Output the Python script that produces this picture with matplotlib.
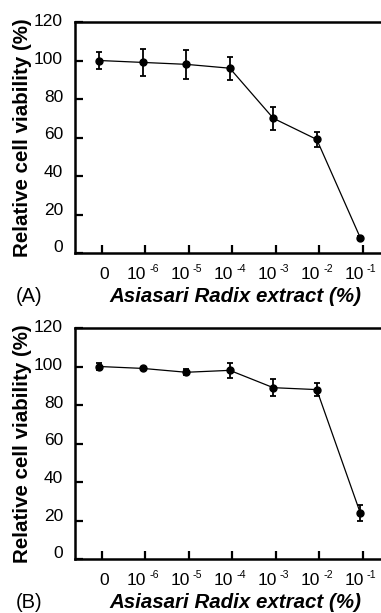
import numpy as np
import matplotlib.pyplot as plt
from matplotlib.transforms import blended_transform_factory

plt.rcParams['font.family'] = ['Liberation Sans', 'DejaVu Sans']

# concentrations (categorical): base and exponent of each label
doses = ['0', '10', '10', '10', '10', '10', '10']
exps = ['', '-6', '-5', '-4', '-3', '-2', '-1']
yvals = [0, 20, 40, 60, 80, 100, 120]

# panel A
via_a = [100, 99, 98, 96, 70, 59, 8]
err_a = [4.5, 7, 7.5, 6, 6, 4, 1]

# panel B
via_b = [100, 99, 97, 98, 89, 88, 24]
err_b = [2, 0.5, 1.5, 4, 4.5, 3.5, 4]

W, H = 381, 613
fig = plt.figure(figsize=(W / 100, H / 100), dpi=100)


def px(x, y):
    return x / W, 1 - y / H


def panel(top_px, bot_px, vals, errs, tag):
    l, t = px(75, top_px)
    _, b = px(75, bot_px)
    ax = fig.add_axes([l, b, 330 / W, t - b])
    x = np.arange(len(doses))
    ax.errorbar(x - 0.06, vals, yerr=errs, color='black', marker='o', ms=5,
                lw=0.9, elinewidth=1.3, capsize=2.5, capthick=1.3)
    ax.set_xlim(-0.62, 6.97)
    ax.set_ylim(0, 120)
    ax.set_yticks(yvals)
    ax.set_yticklabels([])
    ax.set_xticks(x)
    ax.set_xticklabels([])
    for s in ['left', 'bottom', 'top', 'right']:
        ax.spines[s].set_linewidth(1.8)
    ax.tick_params(axis='both', direction='in', length=5.5, width=1.6)
    # y tick labels (scanned figure: labels drift slightly upward near 0)
    ty = blended_transform_factory(ax.transAxes, ax.transData)
    for v in yvals:
        ax.text(-0.036, v + (120 - v) * 0.022, str(v), transform=ty,
                ha='right', va='center', fontsize=12.5, clip_on=False)
    tr = blended_transform_factory(ax.transData, fig.transFigure)
    ybase = 1 - (bot_px + 26) / H
    ysup = 1 - (bot_px + 19) / H
    for xi, lab, ex in zip(x, doses, exps):
        if ex:
            ax.text(xi + 0.02, ybase, lab, transform=tr, ha='right',
                    va='baseline', fontsize=12.5, clip_on=False)
            ax.text(xi + 0.09, ysup, ex.replace('-', '\u2011'), transform=tr,
                    ha='left', va='baseline', fontsize=7.5, clip_on=False)
        else:
            ax.text(xi + 0.05, ybase, lab, transform=tr, ha='center',
                    va='baseline', fontsize=12.5, clip_on=False)
    fig.text(*px(23, (top_px + bot_px) / 2 + 0), 'Relative cell viability (%)',
             rotation=90, ha='center', va='center', fontsize=14.8,
             fontweight='bold')
    fig.text(*px(235, bot_px + 44), 'Asiasari Radix extract (%)',
             ha='center', va='center', fontsize=14.8, fontweight='bold',
             style='italic')
    fig.text(*px(16, bot_px + 44), tag, ha='left', va='center', fontsize=14.5)
    return ax


panel(22, 253, via_a, err_a, '(A)')
panel(328, 559, via_b, err_b, '(B)')

fig.savefig('out.png', dpi=100)
